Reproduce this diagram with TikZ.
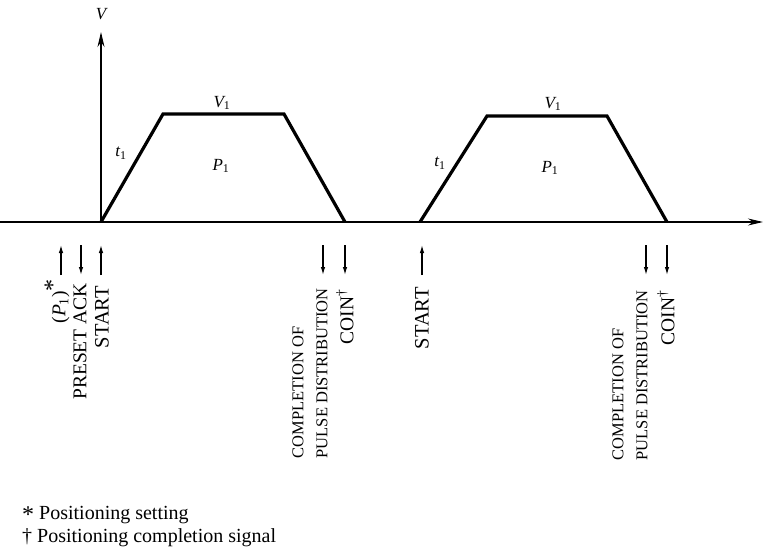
\documentclass[tikz,border=0pt]{standalone}
\usepackage{fontspec}
\setmainfont{Liberation Serif}
\usetikzlibrary{arrows.meta}
\begin{document}
\begin{tikzpicture}[x=1pt,y=-1pt,
  axis/.style={line width=1.5pt,-{Stealth[length=15pt,width=7pt]}},
  trap/.style={line width=3.2pt,line join=miter},
  sigup/.style={line width=1.2pt,-{Latex[length=8pt,width=4.5pt]}},
  lbl/.style={inner sep=0pt,font=\fontsize{17}{20}\selectfont},
  rot/.style={rotate=90,anchor=east,inner sep=0pt,align=left,font=\fontsize{19.5}{23}\selectfont},
  rotstart/.style={rot,font=\fontsize{20.5}{23}\selectfont},
  rotlong/.style={rot,font=\fontsize{16.5}{24}\selectfont},
  foot/.style={anchor=west,inner sep=0pt,font=\fontsize{20}{23}\selectfont}]
\useasboundingbox (0,0) rectangle (765,556);
% axes
\coordinate (o) at (101,222);
\coordinate (x0) at (0,222);
\coordinate (xe) at (763,222);
\coordinate (ye) at (101,32);
\draw[axis] (x0) -- (xe);
\draw[axis] (o) -- (ye);
\node[lbl] (vlab) at (101,14) {\itshape V};
% trapezoid 1
\coordinate (a1) at (101,222);
\coordinate (a2) at (163,114);
\coordinate (a3) at (284,114);
\coordinate (a4) at (345,222);
\draw[trap] (a1) -- (a2) -- (a3) -- (a4);
\node[lbl] (v1a) at (222,103) {{\itshape V}\textsubscript{1}};
\node[lbl] (t1a) at (121,153) {{\itshape t}\textsubscript{1}};
\node[lbl] (p1a) at (221,166) {{\itshape P}\textsubscript{1}};
% trapezoid 2
\coordinate (b1) at (420,222);
\coordinate (b2) at (487,116);
\coordinate (b3) at (607,116);
\coordinate (b4) at (667,222);
\draw[trap] (b1) -- (b2) -- (b3) -- (b4);
\node[lbl] (v1b) at (553,104) {{\itshape V}\textsubscript{1}};
\node[lbl] (t1b) at (440,163) {{\itshape t}\textsubscript{1}};
\node[lbl] (p1b) at (550,168) {{\itshape P}\textsubscript{1}};
% signal arrows
\foreach \n/\x in {s1/61,s3/101,s6/422}{
  \coordinate (\n b) at (\x,275);
  \coordinate (\n t) at (\x,245);
  \draw[sigup] (\n b) -- (\n t);}
\foreach \n/\x in {s2/81,s4/323,s5/345,s7/646,s8/667}{
  \coordinate (\n b) at (\x,275);
  \coordinate (\n t) at (\x,245);
  \draw[sigup] (\n t) -- (\n b);}
% labels
\node[rot] (lp1) at (57,279) {({\itshape P}\textsubscript{1})\raisebox{5pt}{\fontsize{24}{24}\selectfont *}};
\node[rot] (lpa) at (80,283) {PRESET ACK};
\node[rotstart] (lst1) at (102,286) {START};
\node[rotlong] (lcp1) at (310,288) {COMPLETION OF\\PULSE DISTRIBUTION};
\node[rot] (lco1) at (345,289) {COIN\textsuperscript{†}};
\node[rotstart] (lst2) at (422,287) {START};
\node[rotlong] (lcp2) at (630,290) {COMPLETION OF\\PULSE DISTRIBUTION};
\node[rot] (lco2) at (666,290) {COIN\textsuperscript{†}};
% footnotes
\node[foot] (f1) at (22,515) {\raisebox{-3pt}{\fontsize{24}{24}\selectfont *} Positioning setting};
\node[foot] (f2) at (22,538) {† Positioning completion signal};
\end{tikzpicture}
\end{document}
